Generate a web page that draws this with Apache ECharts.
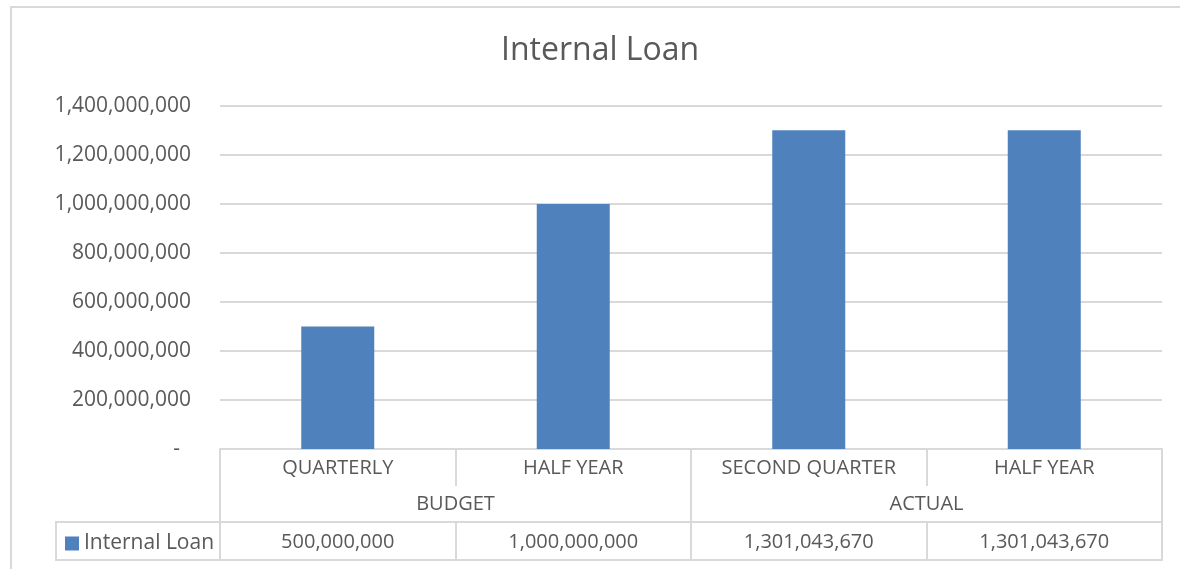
<!DOCTYPE html>
<html>
<head>
<meta charset="utf-8">
<script src="https://cdn.jsdelivr.net/npm/echarts@6/dist/echarts.min.js"></script>
<style>
  html, body { margin: 0; padding: 0; background: #fff; }
  #chart { width: 1180px; height: 569px; }
</style>
</head>
<body>
<div id="chart"></div>
<script>
// Chart data
const periods = ['QUARTERLY', 'HALF YEAR', 'SECOND QUARTER', 'HALF YEAR'];
const groups = ['BUDGET', 'ACTUAL'];
const seriesName = 'Internal Loan';
const loanValues = [500000000, 1000000000, 1301043670, 1301043670];
const yTicks = { min: 0, max: 1400000000, step: 200000000 };

const FONT = 'Open Sans';
const TEXT = '#595959';
const RULE = '#d9d9d9';
const BAR = '#4f81bd';

const fmt = v => Number(v).toLocaleString('en-US');

const tableAxis = (extra) => Object.assign({
  type: 'category',
  position: 'bottom',
  boundaryGap: true,
  axisLine: { show: false },
  axisTick: { show: true, alignWithLabel: false, lineStyle: { color: RULE, width: 2 } },
  axisLabel: { color: TEXT, fontFamily: FONT, fontSize: 20 },
  splitLine: { show: false }
}, extra);

const chart = echarts.init(document.getElementById('chart'), null, { renderer: 'canvas' });

chart.setOption({
  backgroundColor: '#ffffff',
  animation: false,
  title: {
    text: 'Internal Loan',
    left: 501,
    top: 35,
    padding: 0,
    textStyle: { color: TEXT, fontFamily: FONT, fontSize: 32, fontWeight: 'normal' }
  },
  legend: {
    data: [seriesName],
    left: 65,
    top: 533,
    padding: 0,
    icon: 'rect',
    itemWidth: 14,
    itemHeight: 14,
    itemGap: 6,
    selectedMode: false,
    textStyle: { color: TEXT, fontFamily: FONT, fontSize: 21 }
  },
  grid: { left: 220, right: 18, top: 106, bottom: 120, containLabel: false },
  xAxis: [
    // row 1: period names
    tableAxis({
      data: periods,
      axisLine: { show: true, lineStyle: { color: RULE, width: 2 } },
      axisTick: { show: true, alignWithLabel: false, length: 37, lineStyle: { color: RULE, width: 2 } },
      axisLabel: { color: TEXT, fontFamily: FONT, fontSize: 20, margin: 9, interval: 0 }
    }),
    // row 2: budget / actual groups
    tableAxis({
      data: groups,
      offset: 37,
      axisTick: { show: true, alignWithLabel: false, length: 36, lineStyle: { color: RULE, width: 2 } },
      axisLabel: { color: TEXT, fontFamily: FONT, fontSize: 20, margin: 8, interval: 0 }
    }),
    // row 3: values of the series
    tableAxis({
      data: periods.map((p, i) => i),
      offset: 73,
      axisLine: { show: true, lineStyle: { color: RULE, width: 2 } },
      axisTick: { show: true, alignWithLabel: false, length: 38, lineStyle: { color: RULE, width: 2 } },
      axisLabel: {
        color: TEXT, fontFamily: FONT, fontSize: 20, margin: 10, interval: 0,
        formatter: (v, i) => fmt(loanValues[i])
      }
    }),
    // closing rule under the table
    tableAxis({
      data: periods.map((p, i) => i),
      offset: 111,
      axisLine: { show: true, lineStyle: { color: RULE, width: 2 } },
      axisTick: { show: false },
      axisLabel: { show: false }
    })
  ],
  yAxis: {
    type: 'value',
    min: yTicks.min,
    max: yTicks.max,
    interval: yTicks.step,
    axisLine: { show: false },
    axisTick: { show: false },
    splitLine: { show: true, lineStyle: { color: RULE, width: 2 } },
    axisLabel: {
      color: TEXT, fontFamily: FONT, fontSize: 21, margin: 29,
      formatter: v => (v === 0 ? '-  ' : fmt(v))
    }
  },
  series: [{
    name: seriesName,
    type: 'bar',
    xAxisIndex: 0,
    data: loanValues,
    barWidth: '31%',
    itemStyle: { color: BAR },
    emphasis: { disabled: true }
  }],
  graphic: [
    // outer frame
    {
      type: 'rect', silent: true, z: -1,
      shape: { x: 11, y: 7, width: 1200, height: 600 },
      style: { fill: null, stroke: RULE, lineWidth: 2 }
    },
    // legend cell of the data table
    {
      type: 'rect', silent: true,
      shape: { x: 56, y: 522, width: 164, height: 38 },
      style: { fill: null, stroke: RULE, lineWidth: 2 }
    }
  ]
});
</script>
</body>
</html>
